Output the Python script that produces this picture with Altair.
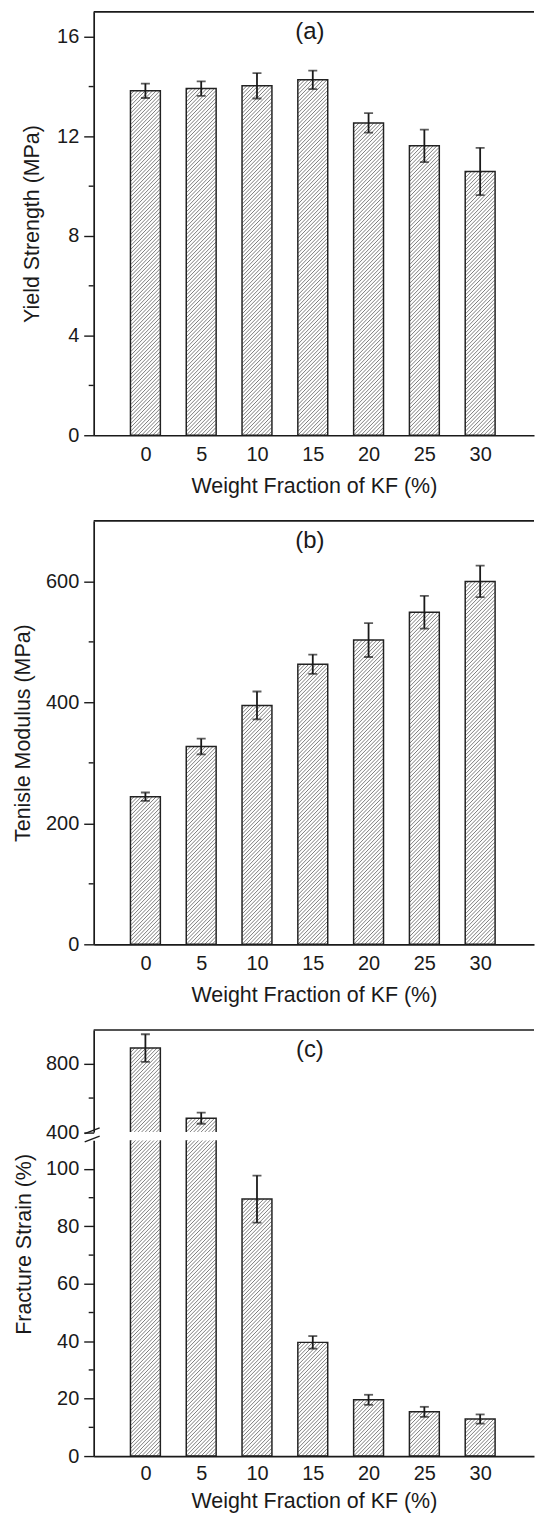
import altair as alt
import pandas as pd

# ---------------- data ----------------
kf = [0, 5, 10, 15, 20, 25, 30]
yield_strength = [13.83, 13.92, 14.03, 14.27, 12.54, 11.62, 10.59]
yield_err = [0.29, 0.29, 0.51, 0.37, 0.39, 0.65, 0.95]
modulus = [244, 327, 395, 463, 503, 549, 600]
modulus_err = [7, 13, 23, 16, 28, 27, 26]
strain = [894, 482, 89.5, 39.6, 19.6, 15.4, 12.9]
strain_err = [81, 33, 8.2, 2.2, 1.75, 1.75, 1.6]

ticks_a = [0, 4, 8, 12, 16]
minor_a = [2, 6, 10, 14]
ticks_b = [0, 200, 400, 600]
minor_b = [100, 300, 500]
ticks_c_up = [400, 800]
minor_c_up = [600]
ticks_c_low = [0, 20, 40, 60, 80, 100]
minor_c_low = [10, 30, 50, 70, 90]
panel_labels = ["(a)", "(b)", "(c)"]
y_titles = ["Yield Strength (MPa)", "Tenisle Modulus (MPa)", "Fracture Strain (%)"]
x_title = "Weight Fraction of KF (%)"

# ---------------- style ----------------
FONT = "Liberation Sans"
INK = "#1a1a1a"
W = 442
XDOM = [-4.19, 34.38]
SX = W / (XDOM[1] - XDOM[0])
BAR_W = 30
HATCH_S = 3.8


def panel(values, errors, ydom, height, major, minor, ytitle=None, title_x=-60,
          title_y=None, show_x=True, label=None, top_line=True, breaks=False,
          label_pad=9, title_pad=11):
    df = pd.DataFrame({"kf": kf, "val": values, "err": errors})
    sy = height / (ydom[1] - ydom[0])
    xs = alt.Scale(domain=XDOM, nice=False, zero=False)
    ys = alt.Scale(domain=ydom, nice=False, zero=False)
    if show_x:
        xaxis = alt.Axis(values=kf, ticks=False, tickSize=0, labelPadding=label_pad,
                         labelFontSize=20, labelColor=INK, labelFont=FONT,
                         title=x_title, titleFontSize=21.5, titleFontWeight="normal",
                         titleColor=INK, titleFont=FONT, titlePadding=title_pad,
                         domainColor=INK, domainWidth=1.7, grid=False, format="d")
    else:
        xaxis = None
    yargs = dict(values=major, tickSize=10, tickWidth=1.4, tickColor=INK,
                 labelPadding=5, labelFontSize=20, labelColor=INK, labelFont=FONT,
                 domainColor=INK, domainWidth=1.7, grid=False, format="d",
                 title=ytitle if ytitle else None)
    if ytitle:
        yargs.update(titleFontSize=21.5, titleFontWeight="normal", titleColor=INK,
                     titleFont=FONT, titleX=title_x)
        if title_y is not None:
            yargs.update(titleY=title_y)
    yaxis = alt.Axis(**yargs)

    base = alt.Chart(df)
    bot = ydom[0]

    hatch = (
        base.transform_filter(f"datum.val > {bot}")
        .transform_calculate(top=f"min(datum.val, {ydom[1]})")
        .transform_calculate(hpx=f"(datum.top - {bot}) * {sy}")
        .transform_calculate(ks=f"sequence(0, ceil((datum.hpx + {BAR_W}) / {HATCH_S}) + 1)")
        .transform_flatten(["ks"], as_=["k"])
        .transform_calculate(b=f"datum.k * {HATCH_S} - {BAR_W}")
        .transform_calculate(x0="max(0, -datum.b)")
        .transform_calculate(x1=f"min({BAR_W}, datum.hpx - datum.b)")
        .transform_filter("datum.x1 > datum.x0")
        .transform_calculate(hx0=f"datum.kf + (datum.x0 - {BAR_W / 2}) / {SX}")
        .transform_calculate(hx1=f"datum.kf + (datum.x1 - {BAR_W / 2}) / {SX}")
        .transform_calculate(hy0=f"{bot} + (datum.x0 + datum.b) / {sy}")
        .transform_calculate(hy1=f"{bot} + (datum.x1 + datum.b) / {sy}")
        .mark_rule(color="#666666", strokeWidth=0.85, clip=True)
        .encode(x=alt.X("hx0:Q", scale=xs, axis=xaxis), x2="hx1:Q",
                y=alt.Y("hy0:Q", scale=ys, axis=yaxis), y2="hy1:Q")
    )

    bars = base.mark_bar(size=BAR_W, orient="vertical", fillOpacity=0, stroke="#222222",
                         strokeWidth=1.5, clip=True).encode(
        x=alt.X("kf:Q", scale=xs, axis=xaxis),
        y=alt.Y("val:Q", scale=ys, axis=yaxis),
    )

    err_rule = base.transform_calculate(
        lo="datum.val - datum.err", hi="datum.val + datum.err"
    ).mark_rule(color=INK, strokeWidth=1.8, clip=True).encode(
        x=alt.X("kf:Q", scale=xs, axis=xaxis),
        y=alt.Y("lo:Q", scale=ys, axis=yaxis), y2="hi:Q",
    )
    err_caps = base.transform_calculate(
        lo="datum.val - datum.err", hi="datum.val + datum.err"
    ).transform_fold(["lo", "hi"], as_=["end", "v"]).mark_tick(
        orient="horizontal", size=9, thickness=1.8, color=INK, clip=True
    ).encode(
        x=alt.X("kf:Q", scale=xs, axis=xaxis),
        y=alt.Y("v:Q", scale=ys, axis=yaxis),
    )

    minor_ticks = alt.Chart(pd.DataFrame({"m": minor})).mark_rule(
        color=INK, strokeWidth=1.4
    ).encode(y=alt.Y("m:Q", scale=ys, axis=yaxis), x=alt.value(-5), x2=alt.value(0))

    layers = [hatch, bars, err_rule, err_caps, minor_ticks]

    if top_line:
        layers.append(
            alt.Chart(alt.Data(values=[{}])).mark_rule(color=INK, strokeWidth=1.7).encode(
                x=alt.value(0), x2=alt.value(W), y=alt.value(0)
            )
        )
    if label:
        layers.append(
            alt.Chart(alt.Data(values=[{"t": label}])).mark_text(
                font=FONT, fontSize=24, color=INK, baseline="middle", align="center"
            ).encode(text="t:N", x=alt.value(217), y=alt.value(20))
        )
    if breaks:
        for yb in (0, 8.3):
            layers.append(
                alt.Chart(alt.Data(values=[{}])).mark_rule(color=INK, strokeWidth=1.4).encode(
                    x=alt.value(-9), x2=alt.value(6),
                    y=alt.value(height + 1.5 + yb), y2=alt.value(height - 4.2 + yb)
                )
            )
    return alt.layer(*layers).properties(width=W, height=height)


pa = panel(yield_strength, yield_err, [0, 17], 425, ticks_a, minor_a,
           ytitle=y_titles[0], title_x=-50, label=panel_labels[0])
pb = panel(modulus, modulus_err, [0, 700], 425, ticks_b, minor_b,
           ytitle=y_titles[1], title_x=-59, label=panel_labels[1])
pc_up = panel(strain, strain_err, [400, 1000], 102.5, ticks_c_up, minor_c_up,
              show_x=False, label=panel_labels[2], breaks=True)
pc_low = panel(strain, strain_err, [0, 110], 317, ticks_c_low, minor_c_low,
               ytitle=y_titles[2], title_x=-58.5, title_y=104, top_line=False,
               label_pad=8, title_pad=7)

pc = alt.vconcat(pc_up, pc_low, spacing=7.7, bounds="flush")

chart = (
    alt.vconcat(pa, pb, pc, spacing=86, bounds="flush")
    .properties(padding={"left": 5, "top": 0, "right": 0, "bottom": 0})
    .configure(font=FONT)
    .configure_view(stroke=None, strokeWidth=0)
)

chart.save("out.html", embed_options={"renderer": "svg", "actions": False})
